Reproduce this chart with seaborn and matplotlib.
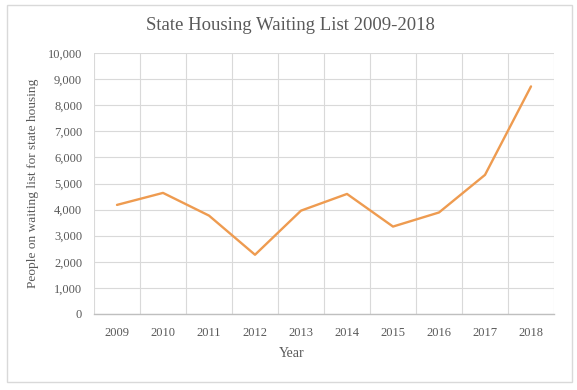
import seaborn as sns
import pandas as pd
import matplotlib.pyplot as plt
from matplotlib.patches import Rectangle
from matplotlib.ticker import FuncFormatter, FixedLocator

years = ['2009', '2010', '2011', '2012', '2013', '2014', '2015', '2016', '2017', '2018']
waiting = [4180, 4640, 3770, 2270, 3960, 4600, 3350, 3890, 5330, 8720]

if __name__ == '__main__':
    df = pd.DataFrame({'Year': years, 'People': waiting})

    sns.set_style('white')
    plt.rcParams['font.family'] = ['Liberation Serif', 'DejaVu Serif']
    text_col = '#595959'

    fig = plt.figure(figsize=(5.77, 3.90), dpi=100)
    ax = fig.add_axes([94 / 577, 1 - 314 / 390, 460 / 577, 261 / 390])

    # the line itself
    sns.lineplot(data=df, x='Year', y='People', ax=ax, color='#EE9B50', linewidth=1.7, sort=False)

    ax.set_xlim(-0.5, len(years) - 0.5)
    ax.set_ylim(0, 10000)
    ax.set_yticks(range(0, 10001, 1000))
    ax.yaxis.set_major_formatter(FuncFormatter(lambda v, p: f'{int(v):,}'))
    ax.xaxis.set_minor_locator(FixedLocator([i - 0.5 for i in range(len(years) + 1)]))

    # excel style grid, vertical lines between the categories
    ax.grid(axis='y', which='major', color='#D9D9D9', linewidth=0.8)
    ax.grid(axis='x', which='minor', color='#D9D9D9', linewidth=0.8)
    ax.grid(axis='x', which='major', visible=False)
    ax.set_axisbelow(True)
    for s in ['top', 'right', 'left']:
        ax.spines[s].set_visible(False)
    ax.spines['bottom'].set_color('#BFBFBF')
    ax.spines['bottom'].set_linewidth(1.0)

    ax.tick_params(axis='both', which='both', length=0, labelsize=9, labelcolor=text_col)
    ax.tick_params(axis='x', pad=9)
    ax.tick_params(axis='y', pad=8.5)

    ax.set_xlabel('Year', fontsize=10, color=text_col)
    ax.set_ylabel('People on waiting list for state housing', fontsize=9.6, color=text_col)
    ax.xaxis.set_label_coords(0.43, -0.125)
    ax.yaxis.set_label_coords(-0.12, 0.5)

    fig.text(290 / 577, 1 - 26 / 390, 'State Housing Waiting List 2009-2018',
             ha='center', va='center', fontsize=13.5, color=text_col)

    # chart border
    fig.patches.append(Rectangle((7 / 577, 1 - 382 / 390), 565 / 577, 377 / 390,
                                 transform=fig.transFigure, fill=False,
                                 edgecolor='#D9D9D9', linewidth=1.0))

    plt.savefig('out.png', dpi=100)
    plt.close('all')
